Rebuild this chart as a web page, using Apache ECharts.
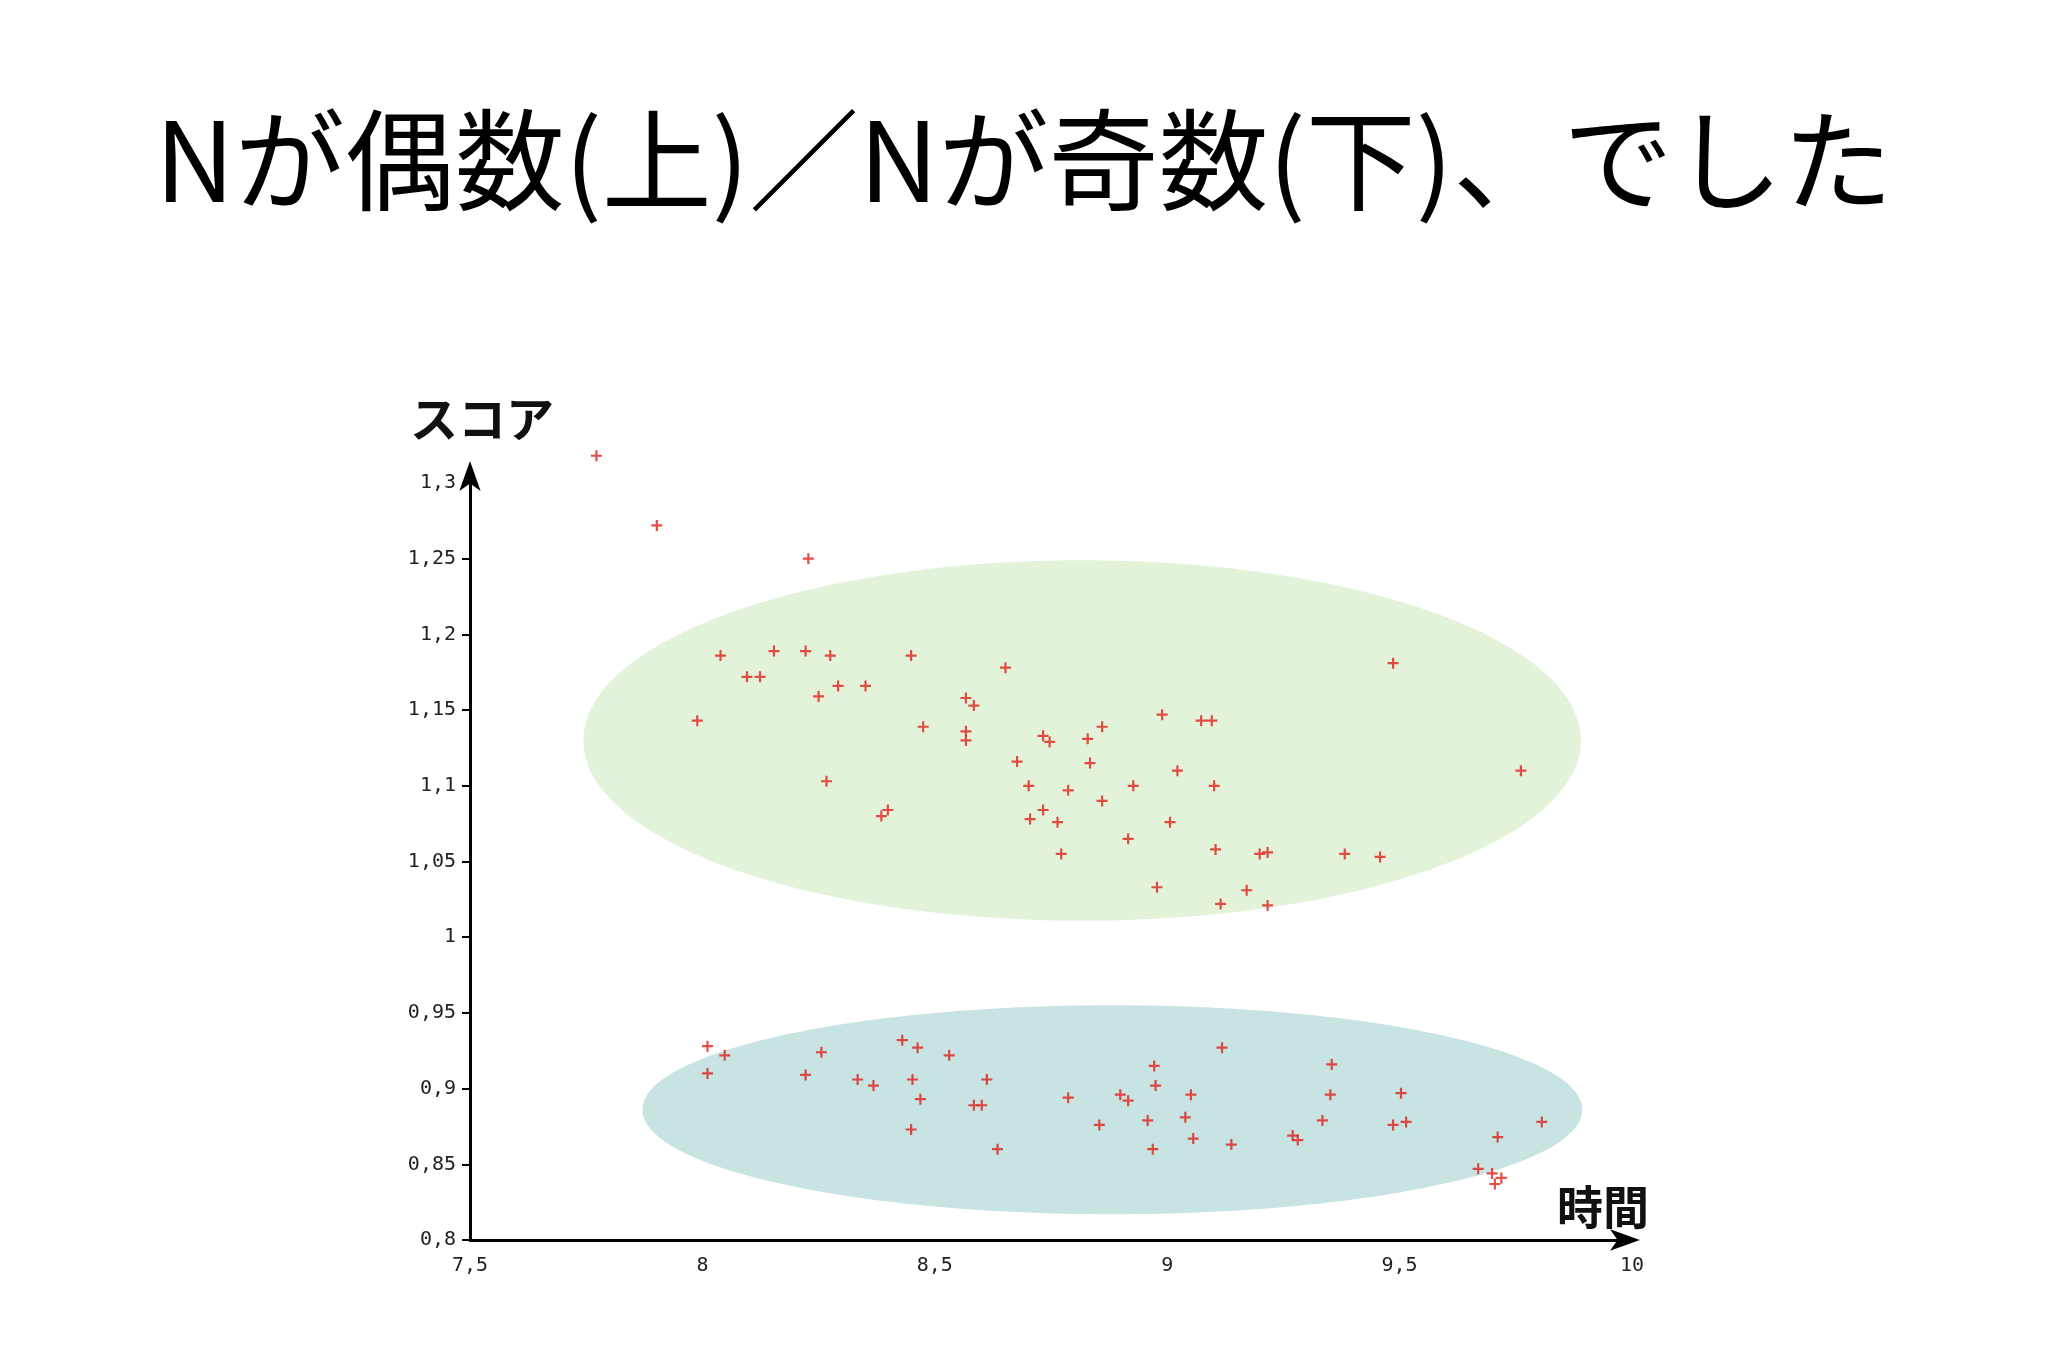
<!DOCTYPE html>
<html><head><meta charset="utf-8">
<script src="https://cdn.jsdelivr.net/npm/echarts@6/dist/echarts.min.js"></script>
<style>html,body{margin:0;background:#fff}#c{width:2048px;height:1365px}</style>
</head><body><div id="c"></div>
<script>
// 上のグループ (Nが偶数)
const upperPoints = [
  [7.772,1.318],[7.902,1.272],[8.228,1.250],[8.039,1.186],[8.154,1.189],[8.222,1.189],
  [8.275,1.186],[8.449,1.186],[8.652,1.178],[9.486,1.181],[8.096,1.172],[8.124,1.172],
  [8.292,1.166],[8.351,1.166],[8.250,1.159],[8.567,1.158],[8.584,1.153],[7.989,1.143],
  [8.475,1.139],[8.567,1.136],[8.567,1.130],[8.733,1.133],[8.747,1.129],[8.860,1.139],
  [8.829,1.131],[8.989,1.147],[9.073,1.143],[9.096,1.143],[8.677,1.116],[8.834,1.115],
  [9.022,1.110],[9.761,1.110],[8.267,1.103],[8.702,1.100],[8.787,1.097],[8.927,1.100],
  [9.101,1.100],[8.860,1.090],[8.733,1.084],[8.399,1.084],[8.385,1.080],[8.705,1.078],
  [8.764,1.076],[9.006,1.076],[8.916,1.065],[8.772,1.055],[9.104,1.058],[9.199,1.055],
  [9.216,1.056],[9.382,1.055],[9.458,1.053],[8.978,1.033],[9.171,1.031],[9.115,1.022],
  [9.216,1.021]
];
// 下のグループ (Nが奇数)
const lowerPoints = [
  [8.011,0.928],[8.048,0.922],[8.011,0.910],[8.256,0.924],[8.222,0.909],[8.430,0.932],
  [8.463,0.927],[8.531,0.922],[8.334,0.906],[8.368,0.902],[8.452,0.906],[8.469,0.893],
  [8.612,0.906],[8.584,0.889],[8.601,0.889],[8.449,0.873],[8.635,0.860],[8.787,0.894],
  [8.899,0.896],[8.916,0.892],[8.972,0.915],[8.975,0.902],[9.051,0.896],[9.039,0.881],
  [8.958,0.879],[8.854,0.876],[9.056,0.867],[8.969,0.860],[9.118,0.927],[9.138,0.863],
  [9.270,0.869],[9.281,0.866],[9.354,0.916],[9.351,0.896],[9.334,0.879],[9.503,0.897],
  [9.486,0.876],[9.514,0.878],[9.711,0.868],[9.669,0.847],[9.699,0.844],[9.719,0.841],
  [9.705,0.837],[9.806,0.878]
];
// 楕円: [中心x, 中心y, 半幅x, 半高y]
const ellipses = [
  [8.817,1.130,1.073,0.119],
  [8.882,0.886,1.011,0.069]
];
const ellipseColors = ['#e2f3da','#c8e4e2'];

const plus = 'path://M4,0 L6,0 L6,4 L10,4 L10,6 L6,6 L6,10 L4,10 L4,6 L0,6 L0,4 L4,4 Z';
const tickFont = {fontFamily:'DejaVu Sans Mono', fontSize:20, color:'#222'};

let option = {
    backgroundColor: '#fff',
    title: {
        text: 'Nが偶数(上)／Nが奇数(下)、でした',
        left: 'center', top: 100,
        textStyle: {fontFamily:'Noto Sans CJK JP', fontSize:110, fontWeight:'normal', color:'#000'}
    },
    grid: {left:470, right:416, top:483, bottom:125},
    xAxis: {
        type:'value', min:7.5, max:10, interval:0.5,
        splitLine:{show:false},
        axisLine:{lineStyle:{color:'#000', width:3}, symbol:['none','arrow'], symbolSize:[16,30], symbolOffset:[0,8]},
        axisTick:{show:false},
        axisLabel:Object.assign({margin:16, formatter: v => String(v).replace('.', ',')}, tickFont),
        name:'時間', nameLocation:'end', nameGap:-75,
        nameTextStyle:{fontFamily:'Noto Sans CJK JP', fontSize:46, fontWeight:'bold', color:'#111', verticalAlign:'bottom', padding:[0,0,10,0]}
    },
    yAxis: {
        type:'value', min:0.8, max:1.3, interval:0.05,
        splitLine:{show:false},
        axisLine:{show:true, lineStyle:{color:'#000', width:3}, symbol:['none','arrow'], symbolSize:[16,30], symbolOffset:[0,22]},
        axisTick:{show:true, length:8, lineStyle:{color:'#000', width:2}},
        axisLabel:Object.assign({margin:14, formatter: v => String(+v.toFixed(2)).replace('.', ',')}, tickFont),
        name:'スコア', nameLocation:'end', nameGap:40,
        nameTextStyle:{fontFamily:'Noto Sans CJK JP', fontSize:48, fontWeight:'bold', color:'#111', align:'left', padding:[0,0,0,-60]}
    },
    series: [
        {
            type:'custom', silent:true, z:1,
            data: ellipses.map((e, i) => e.concat(i)),
            renderItem: function (params, api) {
                const c = api.coord([api.value(0), api.value(1)]);
                const s = api.size([api.value(2), api.value(3)]);
                return {type:'ellipse', shape:{cx:c[0], cy:c[1], rx:s[0], ry:s[1]},
                        style:{fill: ellipseColors[api.value(4)]}};
            }
        },
        {type:'scatter', data:upperPoints, symbol:plus, symbolSize:11, clip:false, itemStyle:{color:'#e0201c'}, z:3},
        {type:'scatter', data:lowerPoints, symbol:plus, symbolSize:11, clip:false, itemStyle:{color:'#e0201c'}, z:3}
    ]
};

echarts.init(document.getElementById('c')).setOption(option);
</script></body></html>
